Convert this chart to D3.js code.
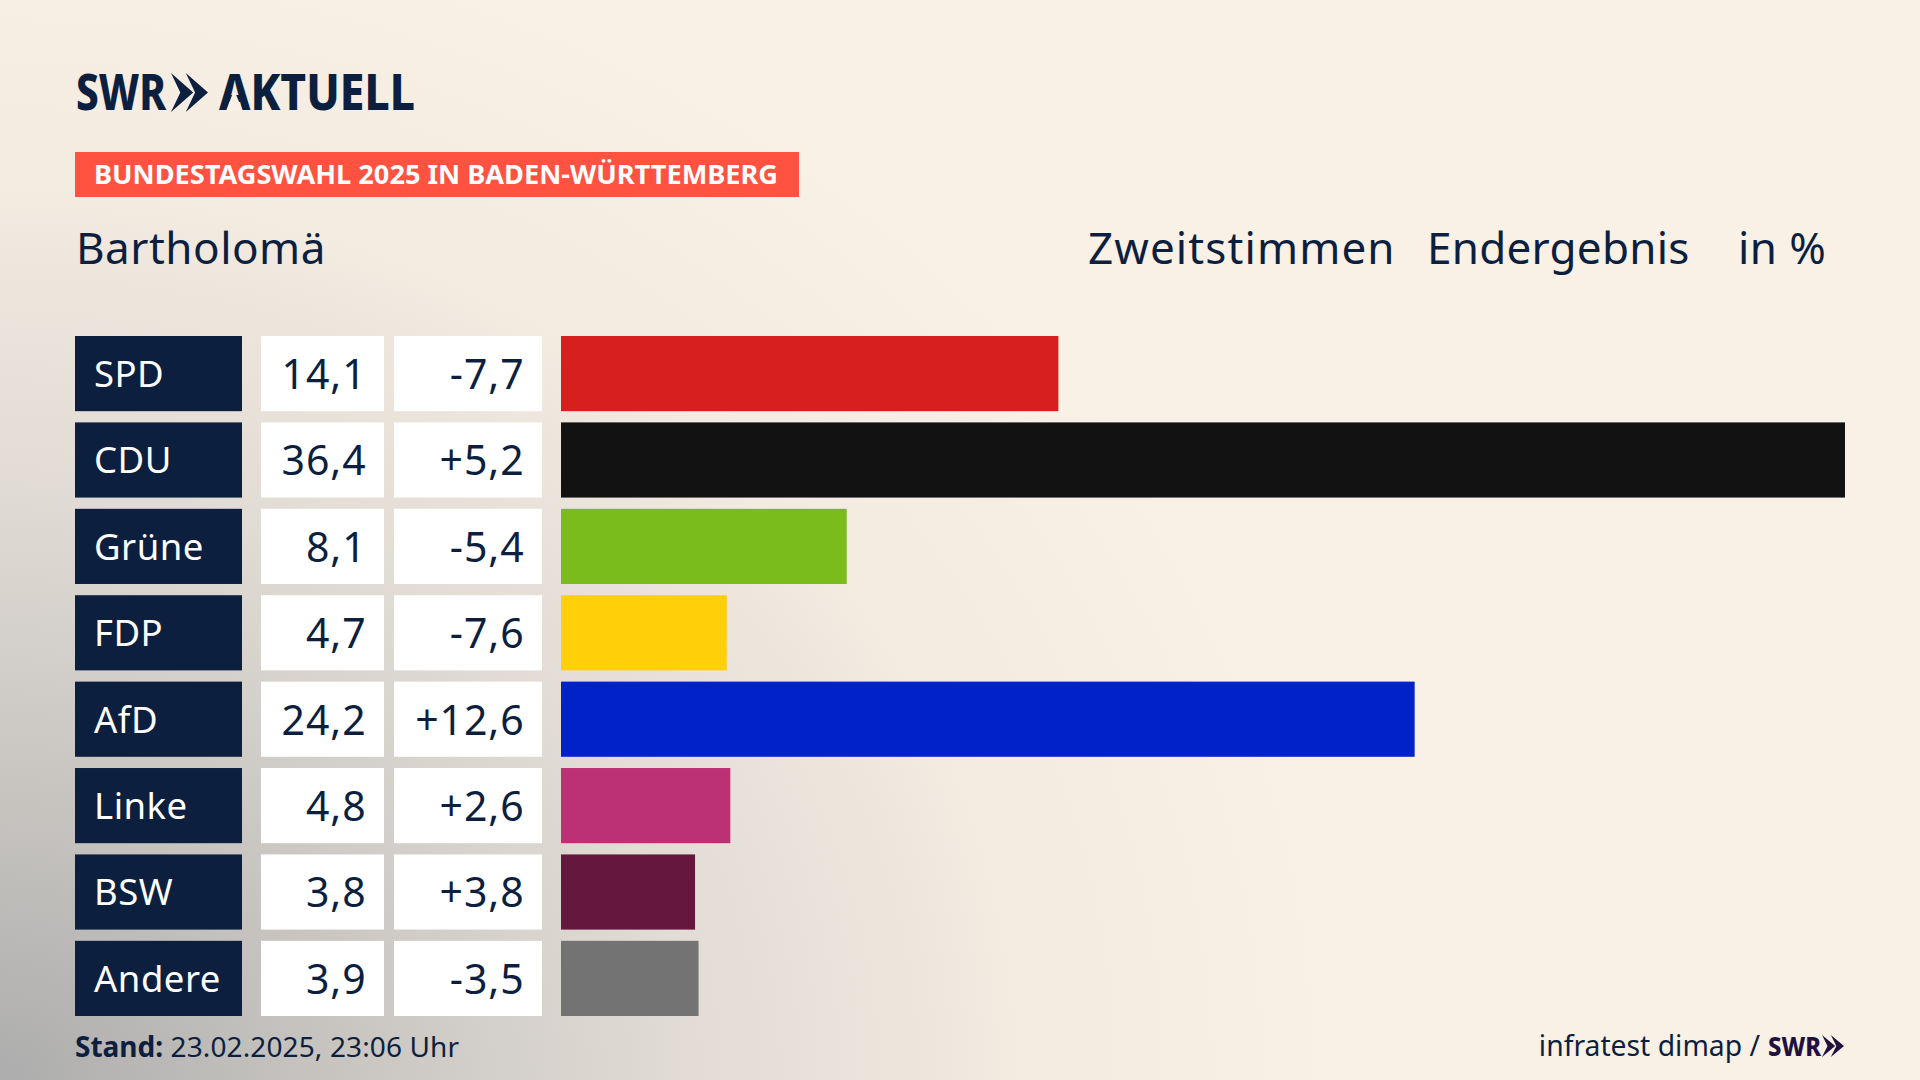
<!DOCTYPE html>
<html lang="de">
<head>
<meta charset="utf-8">
<title>Bartholomä</title>
<script src="https://cdn.jsdelivr.net/npm/d3@7"></script>
<style>
  html, body { margin: 0; padding: 0; background: #faf1e6; }
  svg { display: block; }
  text { font-family: "Noto Sans", sans-serif; fill: #0c1f3f; }
</style>
</head>
<body>
<script>
var parties = ["SPD", "CDU", "Grüne", "FDP", "AfD", "Linke", "BSW", "Andere"]
var shares = [14.1, 36.4, 8.1, 4.7, 24.2, 4.8, 3.8, 3.9]
var changes = [-7.7, 5.2, -5.4, -7.6, 12.6, 2.6, 3.8, -3.5]
var colors = ["#d71f1d", "#121212", "#7abc1b", "#ffcf0a", "#0022c8", "#bc3076", "#66173d", "#737373"]

var width = 1920
var height = 1080
var navy = "#0c1f3f"

var svg = d3.select("body").append("svg").attr("width", width).attr("height", height)

// background: cream with a grey glow from the bottom left
var defs = svg.append("defs")
var glow = defs.append("radialGradient").attr("id", "glow")
  .attr("gradientUnits", "userSpaceOnUse")
  .attr("cx", 0).attr("cy", 0).attr("r", 1)
  .attr("gradientTransform", "translate(0,1080) scale(1350,1180)")
var glowStops = [[0, "#adadad"], [0.25, "#c8c5c1"], [0.5, "#e0dbd4"], [0.75, "#f3eae0"], [1, "#faf1e6"]]
glow.selectAll("stop").data(glowStops).enter().append("stop")
  .attr("offset", function(d) { return d[0] })
  .attr("stop-color", function(d) { return d[1] })
svg.append("rect").attr("width", width).attr("height", height).attr("fill", "url(#glow)")

var fmt = function(v) { return String(v).replace(".", ",") }
var fmtChange = function(v) { return (v > 0 ? "+" : "-") + fmt(Math.abs(v)) }

var y = d3.scaleBand().domain(parties).range([336, 1016]).paddingInner(0.13)
var x = d3.scaleLinear().domain([0, 36.4]).range([561, 1845])

// SWR chevrons, drawn with the same shape for the big and the small logo
function chevrons(g, x0, y0, w, h, color) {
  var cw = w * 0.6
  var offsets = [0, w - cw]
  offsets.forEach(function(o) {
    var p = d3.path()
    p.moveTo(x0 + o, y0)
    p.lineTo(x0 + o + cw, y0 + h / 2)
    p.lineTo(x0 + o, y0 + h)
    p.lineTo(x0 + o + cw * 0.42, y0 + h / 2)
    p.closePath()
    g.append("path").attr("d", p.toString()).attr("fill", color)
  })
}

// header
svg.append("text").attr("x", 76).attr("y", 110).attr("font-size", 49).attr("font-weight", 800)
  .attr("textLength", 90).attr("lengthAdjust", "spacingAndGlyphs").text("SWR")
chevrons(svg, 171, 73, 37, 39, navy)
svg.append("text").attr("x", 219).attr("y", 110).attr("font-size", 49).attr("font-weight", 800)
  .attr("textLength", 196).attr("lengthAdjust", "spacingAndGlyphs").text("AKTUELL")
// the wordmark's A has no crossbar
svg.append("path").attr("d", "M234,90L226,111L243,111Z").attr("fill", "#f8f0e5")

svg.append("rect").attr("x", 75).attr("y", 152).attr("width", 724).attr("height", 45).attr("fill", "#ff5240")
svg.append("text").attr("x", 94).attr("y", 184).attr("font-size", 27).attr("font-weight", 700)
  .style("fill", "#fff").attr("textLength", 684).attr("lengthAdjust", "spacingAndGlyphs")
  .text("BUNDESTAGSWAHL 2025 IN BADEN-WÜRTTEMBERG")

svg.append("text").attr("x", 76).attr("y", 264).attr("font-size", 44).attr("letter-spacing", 0.5).text("Bartholomä")
svg.append("text").attr("x", 1088).attr("y", 264).attr("font-size", 44).attr("letter-spacing", 1.1).text("Zweitstimmen")
svg.append("text").attr("x", 1427).attr("y", 264).attr("font-size", 44).attr("letter-spacing", 0.25).text("Endergebnis")
svg.append("text").attr("x", 1738).attr("y", 264).attr("font-size", 44).attr("letter-spacing", 0.4).text("in %")

// rows
var rows = svg.selectAll("g.row").data(parties).enter().append("g").attr("class", "row")
  .attr("transform", function(d) { return "translate(0," + y(d) + ")" })

rows.append("rect").attr("x", 75).attr("width", 167).attr("height", y.bandwidth()).attr("fill", navy)
rows.append("rect").attr("x", 261).attr("width", 123).attr("height", y.bandwidth()).attr("fill", "#fff")
rows.append("rect").attr("x", 394).attr("width", 148).attr("height", y.bandwidth()).attr("fill", "#fff")
rows.append("rect").attr("x", x(0))
  .attr("width", function(d, i) { return x(shares[i]) - x(0) })
  .attr("height", y.bandwidth())
  .attr("fill", function(d, i) { return colors[i] })

rows.append("text").attr("x", 94).attr("y", 51).attr("font-size", 36.5).attr("letter-spacing", 0.5).style("fill", "#fff")
  .text(function(d) { return d })
rows.append("text").attr("x", 366.5).attr("y", 53).attr("font-size", 41).attr("letter-spacing", 0.9).attr("text-anchor", "end")
  .text(function(d, i) { return fmt(shares[i]) })
rows.append("text").attr("x", 524.5).attr("y", 53).attr("font-size", 41).attr("letter-spacing", 0.9).attr("text-anchor", "end")
  .text(function(d, i) { return fmtChange(changes[i]) })

// footer
var stand = svg.append("text").attr("x", 75).attr("y", 1057).attr("font-size", 28)
stand.append("tspan").attr("font-weight", 700).text("Stand:")
stand.append("tspan").attr("letter-spacing", 0.12).text(" 23.02.2025, 23:06 Uhr")

svg.append("text").attr("x", 1760).attr("y", 1056).attr("font-size", 28.3).attr("text-anchor", "end")
  .text("infratest dimap /")
svg.append("text").attr("x", 1768).attr("y", 1056).attr("font-size", 27).attr("font-weight", 800)
  .style("fill", "#22113f").attr("textLength", 53).attr("lengthAdjust", "spacingAndGlyphs").text("SWR")
chevrons(svg, 1822, 1035, 22, 22, "#22113f")
</script>
</body>
</html>
